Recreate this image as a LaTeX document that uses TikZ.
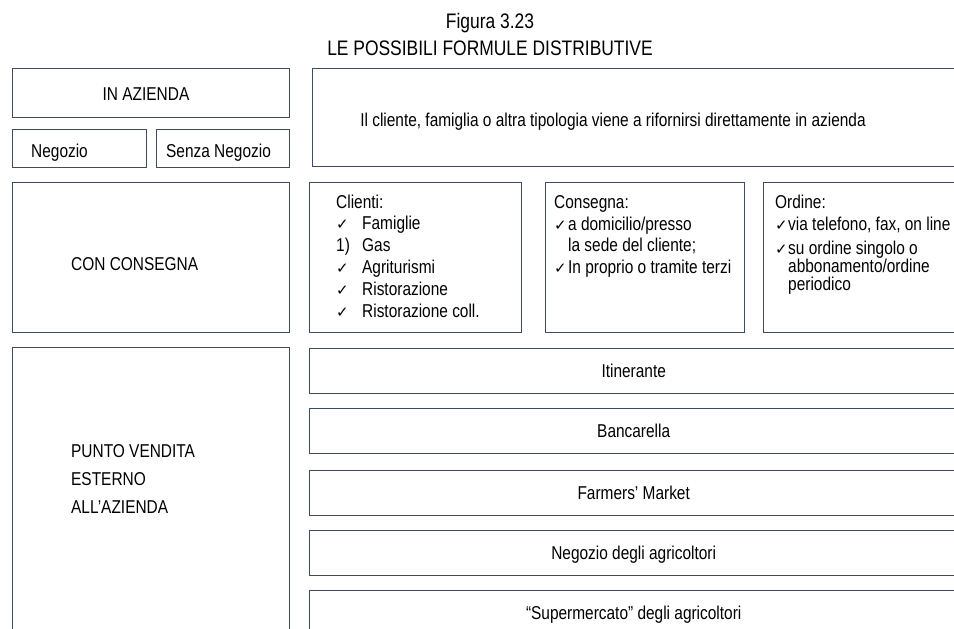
\documentclass[tikz,border=0pt]{standalone}
\usepackage{fontspec}
\setmainfont{Liberation Sans}[FakeStretch=0.83]
\newfontfamily\checkfont{DejaVu Sans}
\usetikzlibrary{positioning}
\definecolor{boxline}{RGB}{62,76,96}
\newcommand{\ck}{{\checkfont\fontsize{15}{15}\selectfont ✓}}

\begin{document}
\begin{tikzpicture}[x=1pt,y=-1pt,
     % define styles
     box/.style={
         draw=boxline,
         line width=1.4pt,
         fill=white,
         inner sep=0pt,
         anchor=north west
     },
     txt/.style={inner sep=0pt, anchor=base west, font=\fontsize{18.6}{21.8}\selectfont},
     ctxt/.style={txt, anchor=base},
     title/.style={inner sep=0pt, anchor=base, font=\fontsize{21}{27}\selectfont}
]
\clip (0,0) rectangle (954,629);

% title
\node[title] (fig) at (490,28) {Figura 3.23};
\node[title] (tit) at (490,55) {LE POSSIBILI FORMULE DISTRIBUTIVE};

% in azienda
\node[box, minimum width=277pt, minimum height=49pt] (inaz) at (12,68) {};
\node[box, minimum width=134pt, minimum height=38pt] (neg) at (12,129) {};
\node[box, minimum width=133pt, minimum height=38pt] (senza) at (156,129) {};
\node[box, minimum width=650pt, minimum height=98pt] (diretto) at (312,68) {};
\node[ctxt] (inaz-t) at (146,100) {IN AZIENDA};
\node[txt] (neg-t) at (31,157) {Negozio};
\node[txt] (senza-t) at (166,157) {Senza Negozio};
\node[ctxt] (diretto-t) at (613,126) {Il cliente, famiglia o altra tipologia viene a rifornirsi direttamente in azienda};

% con consegna
\node[box, minimum width=277pt, minimum height=150pt] (cons) at (12,182) {};
\node[box, minimum width=212pt, minimum height=150pt] (clienti) at (309,182) {};
\node[box, minimum width=199pt, minimum height=150pt] (consegna) at (545,182) {};
\node[box, minimum width=200pt, minimum height=150pt] (ordine) at (763,182) {};
\node[txt] (cons-t) at (71,270) {CON CONSEGNA};

% clienti
\node[txt] (cl-h) at (336,208) {Clienti:};
\foreach \m/\t [count=\i] in {\ck/Famiglie, 1)/Gas, \ck/Agriturismi, \ck/Ristorazione, \ck/Ristorazione coll.}{
  \node[txt] (cl-m-\i) at (336,208+21.8*\i) {\m};
  \node[txt] (cl-t-\i) at (362,208+21.8*\i) {\t};
}

% consegna
\node[txt] (cs-h) at (554,208) {Consegna:};
\node[txt] (cs-m-1) at (554,230) {\ck};
\node[txt] (cs-t-1) at (568,230) {a domicilio/presso};
\node[txt] (cs-t-2) at (568,251) {la sede del cliente;};
\node[txt] (cs-m-3) at (554,273) {\ck};
\node[txt] (cs-t-3) at (568,273) {In proprio o tramite terzi};

% ordine
\node[txt] (or-h) at (775,208) {Ordine:};
\node[txt] (or-m-1) at (775,230) {\ck};
\node[txt] (or-t-1) at (788,230) {via telefono, fax, on line};
\node[txt] (or-m-2) at (775,254) {\ck};
\node[txt] (or-t-2) at (788,254) {su ordine singolo o};
\node[txt] (or-t-3) at (788,272) {abbonamento/ordine};
\node[txt] (or-t-4) at (788,290) {periodico};

% punto vendita
\node[box, minimum width=277pt, minimum height=300pt] (punto) at (12,347) {};
\node[txt] (punto-t-1) at (71,457) {PUNTO VENDITA};
\node[txt] (punto-t-2) at (71,485) {ESTERNO};
\node[txt] (punto-t-3) at (71,513) {ALL’AZIENDA};
\foreach \t/\y [count=\i] in {Itinerante/348, Bancarella/408, Farmers’ Market/470, Negozio degli agricoltori/530, “Supermercato” degli agricoltori/590}{
  \node[box, minimum width=648pt, minimum height=45pt, text height=13.3pt, text depth=0pt,
        font=\fontsize{18.6}{21.8}\selectfont] (pv-\i) at (309,\y) {\t};
}

\end{tikzpicture}
\end{document}
